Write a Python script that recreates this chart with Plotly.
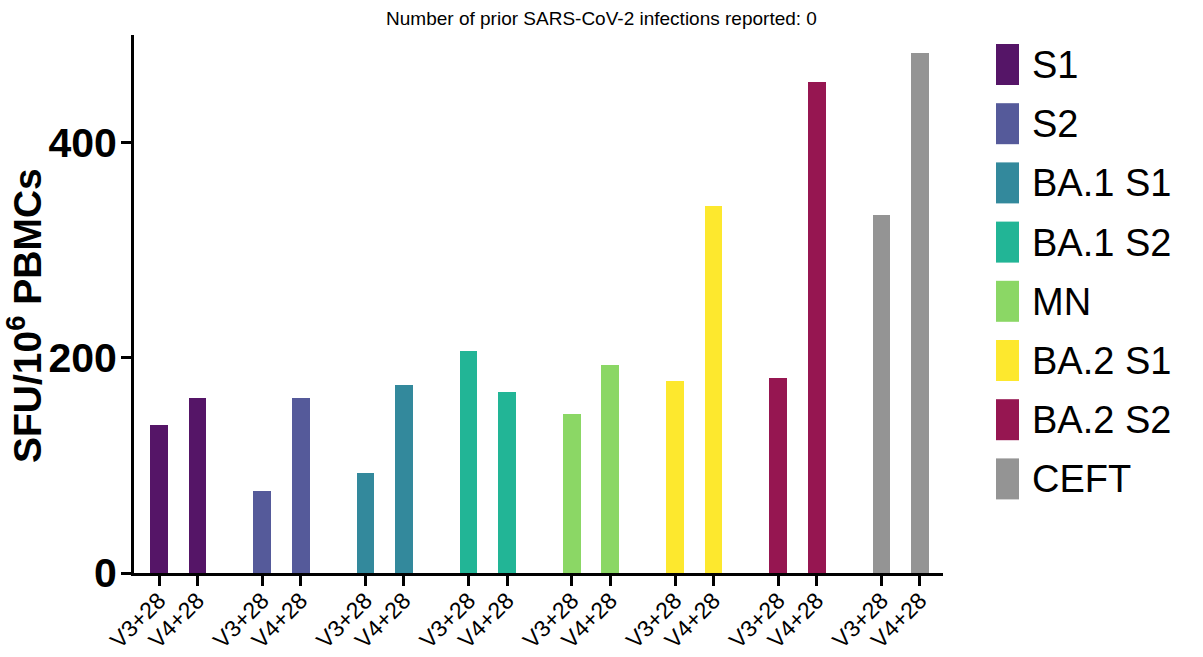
import plotly.graph_objects as go

# Antigen pools, timepoints and ELISpot responses (SFU per 10^6 PBMCs)
antigens = ["S1", "S2", "BA.1 S1", "BA.1 S2", "MN", "BA.2 S1", "BA.2 S2", "CEFT"]
timepoints = ["V3+28", "V4+28"]
v3_values = [138, 76, 93, 206, 148, 178, 181, 333]
v4_values = [163, 163, 175, 168, 193, 341, 456, 483]
colors = ["#551567", "#555a9a", "#33899c", "#22b596", "#8bd765", "#fde82e", "#961651", "#949494"]

title_text = "Number of prior SARS-CoV-2 infections reported: 0"
y_title = "SFU/10<sup>6</sup> PBMCs"
y_ticks = [0, 200, 400]

FONT = "Liberation Sans, Arial, Helvetica, sans-serif"
W, H = 1203, 657
M_L, M_R, M_T, M_B = 134, 260, 35, 84
PW, PH = W - M_L - M_R, H - M_T - M_B

GROUP_STEP = 2.68  # spacing between antigen groups, in bar-slot units
BAR_W = 0.46

fig = go.Figure()
tickvals, ticktext = [], []
for g, (name, a, b, c) in enumerate(zip(antigens, v3_values, v4_values, colors)):
    xs = [g * GROUP_STEP + k for k in range(len(timepoints))]
    tickvals += xs
    ticktext += timepoints
    fig.add_trace(go.Bar(
        x=xs, y=[a, b], name=name, width=BAR_W,
        marker=dict(color=c, line=dict(width=0)),
        showlegend=False,
    ))


def px_x(px):
    return (px - M_L) / PW


def px_y(py):
    return (H - M_B - py) / PH


# Hand-built legend with tall swatches
shapes, annotations = [], []
for i, (name, c) in enumerate(zip(antigens, colors)):
    top = 44 + i * 59.2
    shapes.append(dict(
        type="rect", xref="paper", yref="paper",
        x0=px_x(996), x1=px_x(1019), y0=px_y(top + 41), y1=px_y(top),
        fillcolor=c, line=dict(width=0),
    ))
    annotations.append(dict(
        text=name, xref="paper", yref="paper",
        x=px_x(1030), y=px_y(top + 21), xanchor="left", yanchor="middle",
        showarrow=False, font=dict(family=FONT, size=38, color="black"),
    ))

annotations.append(dict(
    text=y_title, xref="paper", yref="paper", textangle=-90,
    x=px_x(24), y=px_y(315), xanchor="center", yanchor="middle",
    showarrow=False, font=dict(family=FONT, size=39, color="black", weight="bold"),
))

fig.update_layout(
    width=W, height=H,
    margin=dict(l=M_L, r=M_R, t=M_T, b=M_B, autoexpand=False),
    paper_bgcolor="white", plot_bgcolor="white",
    title=dict(text=title_text, x=0.5, xanchor="center", y=1 - 18 / H, yanchor="middle",
               font=dict(family=FONT, size=19, color="black")),
    shapes=shapes, annotations=annotations,
    bargap=0,
)
fig.update_xaxes(
    range=[-0.65, 20.36], tickvals=tickvals, ticktext=ticktext, tickangle=-45,
    showline=True, linecolor="black", linewidth=3, showgrid=False, zeroline=False,
    ticks="outside", ticklen=10, tickwidth=3, tickcolor="black", automargin=False,
    ticklabelstandoff=-8,
    tickfont=dict(family=FONT, size=23, color="black"),
)
fig.update_yaxes(
    range=[0, 500], tickvals=y_ticks, automargin=False,
    showline=True, linecolor="black", linewidth=3, showgrid=False, zeroline=False,
    ticks="outside", ticklen=10, tickwidth=3, tickcolor="black",
    ticklabelstandoff=-4,
    tickfont=dict(family=FONT, size=41, color="black", weight="bold"),
)

fig.write_html("out.html")
